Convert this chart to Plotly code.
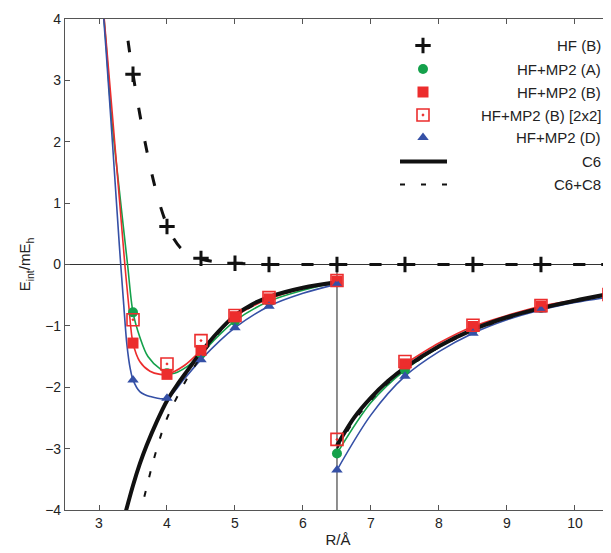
import plotly.graph_objects as go

# ---------------- data ----------------
R_left = [3.5, 4.0, 4.5, 5.0, 5.5, 6.5]
R_right = [6.5, 7.5, 8.5, 9.5, 10.5]
R_right_B = [7.5, 8.5, 9.5, 10.5]
R_hf = [3.5, 4.0, 4.5, 5.0, 5.5, 6.5, 7.5, 8.5, 9.5, 10.5]

E_hf = [3.1, 0.62, 0.1, 0.02, 0.0, 0.0, 0.0, 0.0, 0.0, 0.0]
E_A_left = [-0.78, -1.77, -1.45, -0.92, -0.60, -0.29]
E_A_right = [-3.08, -1.72, -1.06, -0.71, -0.50]
E_B_left = [-1.28, -1.79, -1.40, -0.85, -0.56, -0.27]
E_B_right = [-1.62, -1.01, -0.68, -0.49]
E_B2_left = [-0.90, -1.62, -1.24, -0.83, -0.54, -0.26]
E_B2_right = [-2.85, -1.58, -0.99, -0.67, -0.49]
E_D_left = [-1.88, -2.18, -1.55, -1.03, -0.68, -0.32]
E_D_right = [-3.35, -1.82, -1.12, -0.74, -0.53]

# fitted curves
hf_fit_x = [3.37, 3.43, 3.5, 3.6, 3.7, 3.8, 3.9, 4.0, 4.1, 4.2, 4.3, 4.5, 4.75, 5.0, 5.5, 6.5, 7.5, 8.5, 9.5, 10.5]
hf_fit_y = [4.2, 3.62, 3.1, 2.45, 1.87, 1.37, 0.96, 0.64, 0.42, 0.27, 0.18, 0.09, 0.04, 0.02, 0.0, 0.0, 0.0, 0.0, 0.0, 0.0]

A_fit_lx = [3.03, 3.1, 3.18, 3.3, 3.42, 3.5, 3.6, 3.72, 3.9, 4.07, 4.3, 4.5, 5.0, 5.5, 6.0, 6.5]
A_fit_ly = [4.6, 3.65, 2.45, 1.2, 0.0, -0.78, -1.18, -1.5, -1.7, -1.78, -1.66, -1.45, -0.92, -0.6, -0.42, -0.29]
A_fit_rx = [6.5, 7.0, 7.5, 8.0, 8.5, 9.0, 9.5, 10.0, 10.5]
A_fit_ry = [-3.08, -2.25, -1.72, -1.35, -1.06, -0.87, -0.71, -0.6, -0.5]

B_fit_lx = [3.03, 3.1, 3.2, 3.3, 3.38, 3.44, 3.5, 3.6, 3.75, 3.9, 4.0, 4.25, 4.5, 5.0, 5.5, 6.0, 6.5]
B_fit_ly = [4.6, 3.7, 2.4, 1.07, 0.0, -0.7, -1.28, -1.58, -1.74, -1.79, -1.79, -1.65, -1.4, -0.85, -0.56, -0.39, -0.27]
B_fit_rx = [7.5, 8.0, 8.5, 9.0, 9.5, 10.0, 10.5]
B_fit_ry = [-1.62, -1.28, -1.01, -0.83, -0.68, -0.58, -0.49]

D_fit_lx = [3.03, 3.1, 3.2, 3.3, 3.36, 3.41, 3.46, 3.5, 3.6, 3.75, 4.0, 4.25, 4.5, 5.0, 5.5, 6.0, 6.5]
D_fit_ly = [4.6, 3.55, 1.95, 0.3, -0.6, -1.3, -1.7, -1.88, -2.07, -2.15, -2.18, -1.87, -1.55, -1.03, -0.68, -0.47, -0.32]
D_fit_rx = [6.5, 7.0, 7.5, 8.0, 8.5, 9.0, 9.5, 10.0, 10.5]
D_fit_ry = [-3.35, -2.45, -1.82, -1.42, -1.12, -0.9, -0.74, -0.62, -0.53]

C6_lx = [3.35, 3.4, 3.5, 3.6, 3.7, 3.85, 4.0, 4.15, 4.3, 4.5, 4.75, 5.0, 5.25, 5.5, 6.0, 6.5]
C6_ly = [-4.2, -4.0, -3.6, -3.25, -2.95, -2.56, -2.22, -1.96, -1.73, -1.43, -1.1, -0.83, -0.65, -0.53, -0.38, -0.29]
C6_rx = [6.5, 6.75, 7.0, 7.25, 7.5, 8.0, 8.5, 9.0, 9.5, 10.0, 10.5]
C6_ry = [-2.95, -2.5, -2.17, -1.9, -1.68, -1.33, -1.06, -0.86, -0.71, -0.59, -0.48]

C68_lx = [3.6, 3.62, 3.8, 3.95, 4.05, 4.2, 4.31, 4.5, 4.75, 5.0, 5.5, 6.0, 6.5]
C68_ly = [-4.1, -4.0, -3.2, -2.65, -2.38, -2.05, -1.83, -1.5, -1.13, -0.85, -0.55, -0.39, -0.3]
C68_rx = [6.5, 6.75, 7.0, 7.25, 7.5, 8.0, 8.5, 9.0, 9.5, 10.0, 10.5]
C68_ry = [-3.0, -2.55, -2.21, -1.93, -1.71, -1.35, -1.08, -0.88, -0.72, -0.6, -0.49]

x_ticks = [3, 4, 5, 6, 7, 8, 9, 10]
y_ticks = [-4, -3, -2, -1, 0, 1, 2, 3, 4]

legend_labels = ["HF (B)", "HF+MP2 (A)", "HF+MP2 (B)", "HF+MP2 (B) [2x2]", "HF+MP2 (D)", "C6", "C6+C8"]

# ---------------- styles ----------------
GREEN = "#14a14b"
RED = "#ec2d2d"
BLUE = "#3550a6"
BLACK = "#111111"
FONT = "Liberation Sans, Arial, sans-serif"

# the page adds an 8px body margin; compensate so the plot lands at the reference position
PAGE_OFFSET = 8

fig = go.Figure()

def curve(x, y, color, width, dash=None, smooth=0.9):
    fig.add_trace(go.Scatter(x=x, y=y, mode="lines", showlegend=False, hoverinfo="skip",
                             line=dict(color=color, width=width, dash=dash, shape="spline", smoothing=smooth)))

# coloured fits
curve(A_fit_lx, A_fit_ly, GREEN, 1.6)
curve(A_fit_rx, A_fit_ry, GREEN, 1.6)
curve(B_fit_lx, B_fit_ly, RED, 1.6)
curve(B_fit_rx, B_fit_ry, RED, 1.6)
curve(D_fit_lx, D_fit_ly, BLUE, 1.6)
curve(D_fit_rx, D_fit_ry, BLUE, 1.6)
# dispersion curves
curve(C68_lx, C68_ly, BLACK, 2, dash="6px,14px")
curve(C68_rx, C68_ry, BLACK, 2, dash="6px,14px")
curve(C6_lx, C6_ly, BLACK, 4)
curve(C6_rx, C6_ry, BLACK, 4)
# HF fit
curve(hf_fit_x, hf_fit_y, BLACK, 3, dash="12px,22px")

def pts(x, y, color, symbol, size, line_w=0, line_c=None):
    fig.add_trace(go.Scatter(x=x, y=y, mode="markers", showlegend=False,
                             marker=dict(color=color, symbol=symbol, size=size,
                                         line=dict(width=line_w, color=line_c or color))))

pts(R_left, E_A_left, GREEN, "circle", 10)
pts(R_right, E_A_right, GREEN, "circle", 10)
pts(R_left, E_B_left, RED, "square", 11)
pts(R_right_B, E_B_right, RED, "square", 11)
pts(R_left, E_D_left, BLUE, "triangle-up", 10)
pts(R_right, E_D_right, BLUE, "triangle-up", 10)
pts(R_left, E_B2_left, RED, "square-open-dot", 12, 1.6, RED)
pts(R_right, E_B2_right, RED, "square-open-dot", 12, 1.6, RED)
pts(R_hf, E_hf, BLACK, "cross-thin", 11, 3, BLACK)

# ---------------- manual legend (overlay axes in screen-pixel units) ----------------
leg_rows_y = [45.5, 69, 92, 115, 137.5, 161.5, 184.5]
sym_x = 423
fig.add_trace(go.Scatter(x=[sym_x], y=[leg_rows_y[0]], xaxis="x2", yaxis="y2", mode="markers", showlegend=False,
                         marker=dict(symbol="cross-thin", size=11, line=dict(width=3, color=BLACK))))
fig.add_trace(go.Scatter(x=[sym_x], y=[leg_rows_y[1]], xaxis="x2", yaxis="y2", mode="markers", showlegend=False,
                         marker=dict(symbol="circle", size=10, color=GREEN)))
fig.add_trace(go.Scatter(x=[sym_x], y=[leg_rows_y[2]], xaxis="x2", yaxis="y2", mode="markers", showlegend=False,
                         marker=dict(symbol="square", size=11, color=RED)))
fig.add_trace(go.Scatter(x=[sym_x], y=[leg_rows_y[3]], xaxis="x2", yaxis="y2", mode="markers", showlegend=False,
                         marker=dict(symbol="square-open-dot", size=12, color=RED, line=dict(width=1.6, color=RED))))
fig.add_trace(go.Scatter(x=[sym_x], y=[leg_rows_y[4]], xaxis="x2", yaxis="y2", mode="markers", showlegend=False,
                         marker=dict(symbol="triangle-up", size=10, color=BLUE)))
fig.add_trace(go.Scatter(x=[400, 447], y=[leg_rows_y[5]] * 2, xaxis="x2", yaxis="y2", mode="lines", showlegend=False,
                         line=dict(color=BLACK, width=4)))
fig.add_trace(go.Scatter(x=[400, 447], y=[leg_rows_y[6]] * 2, xaxis="x2", yaxis="y2", mode="lines", showlegend=False,
                         line=dict(color=BLACK, width=2, dash="5px,16px")))

annotations = []
for lab, yy in zip(legend_labels, leg_rows_y):
    annotations.append(dict(x=603, y=yy, xref="x2", yref="y2", text=lab, showarrow=False,
                            xanchor="right", yanchor="middle", font=dict(family=FONT, size=15, color="#222")))

# vertical separator at R = 6.5
shapes = [dict(type="line", xref="x", yref="y", x0=R_right[0], x1=R_right[0], y0=-4, y1=0,
               line=dict(color="#444", width=1.2), layer="below")]

axis_common = dict(showline=True, linecolor="#555", linewidth=1.2, mirror="ticks", ticks="inside",
                   ticklen=5, tickcolor="#555", tickwidth=1.2, showgrid=False,
                   tickfont=dict(family=FONT, size=14, color="#222"))

fig.update_layout(
    width=611 - PAGE_OFFSET, height=553 - PAGE_OFFSET,
    margin=dict(l=65 - PAGE_OFFSET, r=0, t=19 - PAGE_OFFSET, b=43),
    plot_bgcolor="white", paper_bgcolor="white",
    showlegend=False,
    xaxis=dict(range=[2.5, 10.53], tickvals=x_ticks, zeroline=False,
               title=dict(text="R/Å", font=dict(family=FONT, size=15, color="#222"), standoff=4), **axis_common),
    yaxis=dict(range=[-4, 4], tickvals=y_ticks, tickformat="d",
               zeroline=True, zerolinecolor="#333", zerolinewidth=1.2,
               title=dict(text="E<sub>int</sub>/mE<sub>h</sub>", font=dict(family=FONT, size=15, color="#222"), standoff=10),
               **axis_common),
    xaxis2=dict(overlaying="x", range=[65, 611], visible=False, anchor="y2"),
    yaxis2=dict(overlaying="y", range=[510, 19], visible=False, anchor="x2"),
    annotations=annotations,
    shapes=shapes,
)

fig.write_html("out.html")
